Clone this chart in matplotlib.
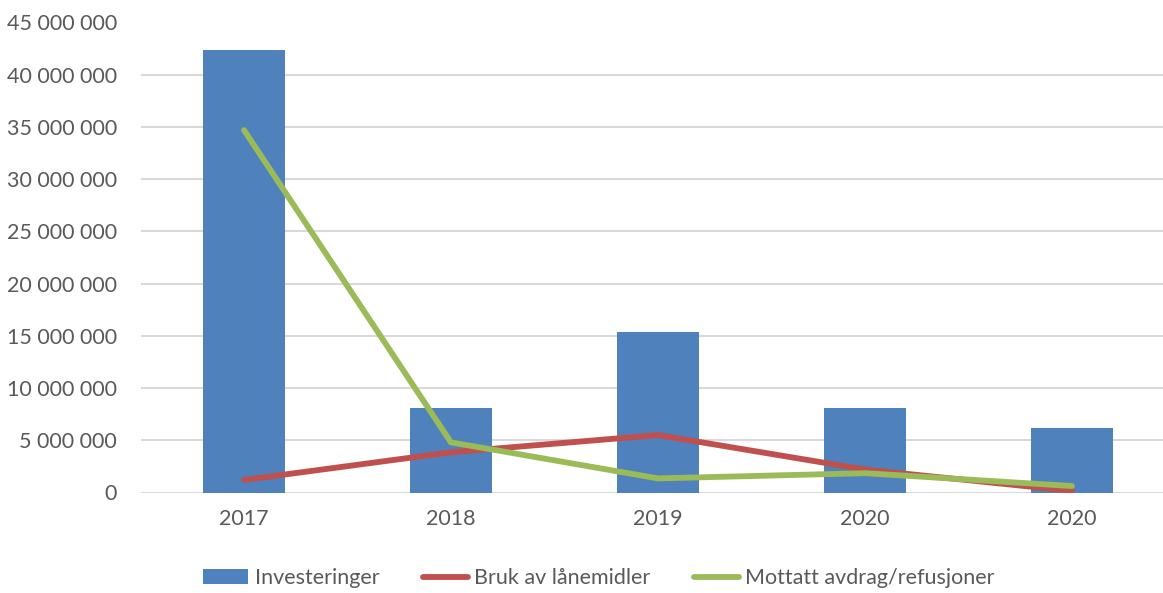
import matplotlib
matplotlib.use("Agg")
import matplotlib.pyplot as plt
from matplotlib.ticker import FuncFormatter, MultipleLocator

# Data
years = ["2017", "2018", "2019", "2020", "2020"]
investeringer = [42.4e6, 8.1e6, 15.4e6, 8.1e6, 6.2e6]
bruk_laanemidler = [1.2e6, 3.85e6, 5.5e6, 2.2e6, 0.15e6]
mottatt_avdrag = [34.7e6, 4.8e6, 1.35e6, 1.85e6, 0.62e6]

plt.rcParams['font.family'] = ['Lato', 'DejaVu Sans']
text_color = '#595959'

fig = plt.figure(figsize=(11.63, 5.93), dpi=100)
ax = fig.add_axes([140.5 / 1163, (593 - 492.5) / 593, (1163 - 140.5) / 1163, 470 / 593])

x = list(range(len(years)))
bars = ax.bar(x, investeringer, width=0.4, color='#4F81BD', label='Investeringer', zorder=2)
l1, = ax.plot(x, bruk_laanemidler, color='#C0504D', lw=4.2, solid_capstyle='round',
              label='Bruk av lånemidler', zorder=3)
l2, = ax.plot(x, mottatt_avdrag, color='#9BBB59', lw=4.2, solid_capstyle='round',
              label='Mottatt avdrag/refusjoner', zorder=4)

ax.set_xlim(-0.5, 4.44)
ax.set_ylim(0, 45e6)
ax.yaxis.set_major_locator(MultipleLocator(5e6))
ax.yaxis.set_major_formatter(FuncFormatter(lambda v, p: f"{int(v):,}".replace(",", " ")))
ax.set_xticks(x)
ax.set_xticklabels(years)

ax.grid(axis='y', color='#D9D9D9', lw=1.5, zorder=0)
for s in ax.spines.values():
    s.set_visible(False)
ax.tick_params(axis='both', length=0, labelsize=15.5, colors=text_color)
ax.tick_params(axis='y', pad=17)
ax.tick_params(axis='x', pad=12)

fig.legend([bars, l1, l2], ['Investeringer', 'Bruk av lånemidler', 'Mottatt avdrag/refusjoner'],
           loc='center', bbox_to_anchor=(0.515, 0.025), ncol=3, frameon=False,
           fontsize=15.5, handlelength=2.1, handletextpad=0.3, columnspacing=2.0,
           labelcolor=text_color)

fig.savefig("out.png", dpi=100)
